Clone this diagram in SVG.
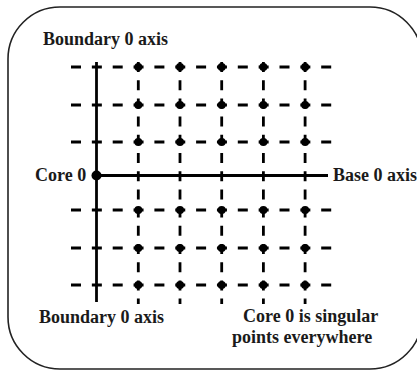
<svg xmlns="http://www.w3.org/2000/svg" width="417" height="370" viewBox="0 0 417 370">
<style>
.lbl{font-family:"Liberation Serif","Times New Roman",serif;font-weight:bold;font-size:18px;fill:#1a1a1a}
.dh{stroke:#000;stroke-width:2.8;stroke-dasharray:10 10.85;fill:none}
.dv{stroke:#000;stroke-width:2.8;stroke-dasharray:10 8.2;fill:none}
.ax{stroke:#000;stroke-width:2.8;fill:none}
.dot{fill:#000}
</style>
<rect id="frame" x="8" y="7" width="414" height="362" rx="52" ry="52" fill="#fff" stroke="#222" stroke-width="1.6"/>
<g id="connectors">
  <g id="grid-horizontal">
    <line class="dh" x1="71" y1="67" x2="333" y2="67"/>
    <line class="dh" x1="71" y1="105" x2="333" y2="105"/>
    <line class="dh" x1="71" y1="142" x2="333" y2="142"/>
    <line class="dh" x1="71" y1="210" x2="333" y2="210"/>
    <line class="dh" x1="71" y1="248" x2="333" y2="248"/>
    <line class="dh" x1="71" y1="285" x2="333" y2="285"/>
  </g>
  <g id="grid-vertical">
    <line class="dv" x1="138.3" y1="62" x2="138.3" y2="304"/>
    <line class="dv" x1="180" y1="62" x2="180" y2="304"/>
    <line class="dv" x1="221.7" y1="62" x2="221.7" y2="304"/>
    <line class="dv" x1="263.4" y1="62" x2="263.4" y2="304"/>
    <line class="dv" x1="305.1" y1="62" x2="305.1" y2="304"/>
  </g>
  <line id="boundary-axis" class="ax" x1="96.5" y1="62" x2="96.5" y2="302"/>
  <line id="base-axis" class="ax" x1="96.5" y1="175.5" x2="328" y2="175.5"/>
</g>
<g id="singular-points">
  <circle class="dot" cx="138.3" cy="67" r="4"/><circle class="dot" cx="180" cy="67" r="4"/><circle class="dot" cx="221.7" cy="67" r="4"/><circle class="dot" cx="263.4" cy="67" r="4"/><circle class="dot" cx="305.1" cy="67" r="4"/>
  <circle class="dot" cx="138.3" cy="105" r="4"/><circle class="dot" cx="180" cy="105" r="4"/><circle class="dot" cx="221.7" cy="105" r="4"/><circle class="dot" cx="263.4" cy="105" r="4"/><circle class="dot" cx="305.1" cy="105" r="4"/>
  <circle class="dot" cx="138.3" cy="142" r="4"/><circle class="dot" cx="180" cy="142" r="4"/><circle class="dot" cx="221.7" cy="142" r="4"/><circle class="dot" cx="263.4" cy="142" r="4"/><circle class="dot" cx="305.1" cy="142" r="4"/>
  <circle class="dot" cx="138.3" cy="210" r="4"/><circle class="dot" cx="180" cy="210" r="4"/><circle class="dot" cx="221.7" cy="210" r="4"/><circle class="dot" cx="263.4" cy="210" r="4"/><circle class="dot" cx="305.1" cy="210" r="4"/>
  <circle class="dot" cx="138.3" cy="248" r="4"/><circle class="dot" cx="180" cy="248" r="4"/><circle class="dot" cx="221.7" cy="248" r="4"/><circle class="dot" cx="263.4" cy="248" r="4"/><circle class="dot" cx="305.1" cy="248" r="4"/>
  <circle class="dot" cx="138.3" cy="285" r="4"/><circle class="dot" cx="180" cy="285" r="4"/><circle class="dot" cx="221.7" cy="285" r="4"/><circle class="dot" cx="263.4" cy="285" r="4"/><circle class="dot" cx="305.1" cy="285" r="4"/>
</g>
<g id="core0">
  <circle class="dot" cx="96.5" cy="175.5" r="5"/>
  <text class="lbl" x="35" y="180.5">Core 0</text>
</g>
<g id="label-boundary-top"><text class="lbl" x="43" y="45">Boundary 0 axis</text></g>
<g id="label-base"><text class="lbl" x="333" y="180.5">Base 0 axis</text></g>
<g id="label-boundary-bottom"><text class="lbl" x="39" y="323">Boundary 0 axis</text></g>
<g id="label-singular">
  <text class="lbl" x="243" y="321.5">Core 0 is singular</text>
  <text class="lbl" x="232" y="343">points everywhere</text>
</g>
</svg>
